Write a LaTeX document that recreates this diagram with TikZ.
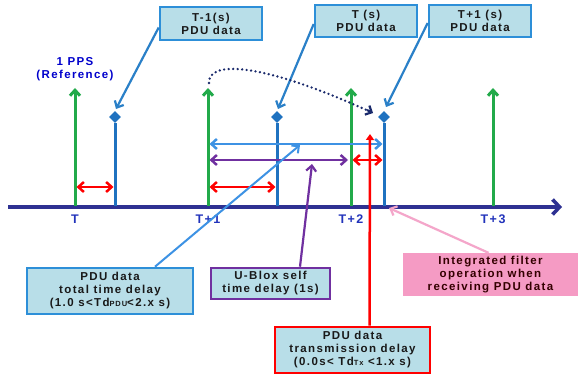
\documentclass[tikz,border=0pt]{standalone}
\usepackage{fontspec}
\setmainfont{Liberation Sans}[LetterSpace=12]
\usetikzlibrary{arrows.meta,shapes.geometric,calc}
\definecolor{navy}{HTML}{2E3192}
\definecolor{ppsgreen}{HTML}{22AA4A}
\definecolor{pdublue}{HTML}{1F72C0}
\definecolor{callblue}{HTML}{2A80C8}
\definecolor{boxfill}{HTML}{B8DEE8}
\definecolor{boxline}{HTML}{2D8FD8}
\definecolor{ltblue}{HTML}{3D92E4}
\definecolor{purp}{HTML}{7030A0}
\definecolor{pinkfill}{HTML}{F59BC4}
\definecolor{pinkline}{HTML}{F4A6CA}
\definecolor{lblblue}{HTML}{2233BB}
\definecolor{dotnavy}{HTML}{1A2A6C}
\tikzset{
  barb/.style={-{Straight Barb[length=5.5pt,width=10pt]}},
  dbarb/.style={{Straight Barb[length=5.5pt,width=10pt]}-{Straight Barb[length=5.5pt,width=10pt]}},
  txt/.style={font=\bfseries\fontsize{11.5}{13}\selectfont, align=center, text=black!90},
  infobox/.style={txt, draw=boxline, fill=boxfill, line width=2.6pt, inner sep=0pt},
  ticklbl/.style={font=\bfseries\fontsize{12.5}{13}\selectfont, text=lblblue},
  pps/.style={ppsgreen, line width=3pt, barb},
  pdu/.style={pdublue, line width=3pt},
  dia/.style={diamond, fill=pdublue, inner sep=0pt, minimum size=12pt},
  callout/.style={callblue, line width=2.2pt, barb},
}
\begin{document}
\begin{tikzpicture}[x=1pt,y=-1pt]
\useasboundingbox (0,0) rectangle (578,377);
\fill[white] (0,0) rectangle (578,377);

% axis
\coordinate (ax0) at (8,207);
\coordinate (ax1) at (562,207);
\draw[navy, line width=3.6pt, -{Straight Barb[length=7pt,width=15pt]}] (ax0) -- (ax1);

% tick labels
\node[ticklbl] (lT) at (75,219) {T};
\node[ticklbl] (lT1) at (208,219) {T+1};
\node[ticklbl] (lT2) at (351,219) {T+2};
\node[ticklbl] (lT3) at (493,219) {T+3};

% 1 PPS label
\node[ticklbl, align=center, text=blue!80!black, font=\bfseries\fontsize{11.5}{13.5}\selectfont] (ppslbl) at (75,69) {1 PPS\\(Reference)};

% green PPS arrows
\foreach \n/\x in {a/75,b/208,c/351,d/493}{
  \coordinate (g\n0) at (\x,206);
  \coordinate (g\n1) at (\x,88);
  \draw[pps] (g\n0) -- (g\n1);
}

% blue PDU lines with diamonds
\foreach \n/\x in {a/115,b/277,c/384}{
  \node[dia] (d\n) at (\x,117) {};
  \coordinate (p\n0) at (\x,206);
  \draw[pdu] (p\n0) -- (d\n.south);
}

% horizontal arrows
\coordinate (r1a) at (76.5,187); \coordinate (r1b) at (113.5,187);
\coordinate (r2a) at (209.5,187); \coordinate (r2b) at (275.5,187);
\coordinate (r3a) at (352.5,160); \coordinate (r3b) at (382.5,160);
\draw[red, line width=2.5pt, dbarb] (r1a) -- (r1b);
\draw[red, line width=2.5pt, dbarb] (r2a) -- (r2b);
\draw[red, line width=2.5pt, dbarb] (r3a) -- (r3b);
\coordinate (lb1) at (209.5,144); \coordinate (lb2) at (382.5,144);
\draw[ltblue, line width=2.5pt, dbarb] (lb1) -- (lb2);
\coordinate (pu1) at (209.5,160); \coordinate (pu2) at (348,160);
\draw[purp, line width=2.5pt, dbarb] (pu1) -- (pu2);

% top boxes
\node[infobox, minimum width=102pt, minimum height=33pt] (tm1) at (211,23.5) {T-1(s)\\PDU data};
\node[infobox, minimum width=102pt, minimum height=32pt] (t0) at (366,21) {T (s)\\PDU data};
\node[infobox, minimum width=102pt, minimum height=32pt] (tp1) at (480,21) {T+1 (s)\\PDU data};

\coordinate (ctm1) at (116,109);
\coordinate (ct0) at (278,109);
\coordinate (ctp1) at (386,107);
\draw[callout] ([yshift=-4pt]tm1.west) -- (ctm1);
\draw[callout] ([yshift=-3pt]t0.west) -- (ct0);
\draw[callout] ([yshift=-2pt]tp1.west) -- (ctp1);

% dotted curve
\coordinate (dot0) at (209,83);
\coordinate (dot1) at (373,113);
\coordinate (dot2) at (367,110);
\draw[dotnavy, line width=2.6pt, dash pattern=on 0pt off 4.5pt, line cap=round] (dot0) .. controls (208,60) and (262,62) .. (dot1);
\draw[dotnavy, line width=2.2pt, -{Straight Barb[length=5pt,width=10pt]}] (dot2) -- (dot1);

% bottom boxes
\node[infobox, minimum width=166pt, minimum height=46pt] (tot) at (110,291) {PDU data\\total time delay\\(1.0 s<Td{\fontsize{7.5}{7}\selectfont PDU}<2.x s)};
\node[infobox, draw=purp, minimum width=119pt, minimum height=31pt] (ub) at (270.5,283.5) {U-Blox self\\time delay (1s)};
\node[infobox, draw=red, minimum width=155pt, minimum height=46pt] (tx) at (352.5,350) {PDU data\\transmission delay\\(0.0s< Td{\fontsize{7.5}{7}\selectfont Tx} <1.x s)};
\node[txt, fill=pinkfill, minimum width=175pt, minimum height=43pt, inner sep=0pt, text=black!80!red] (flt) at (490.5,274.5) {Integrated filter\\operation when\\receiving PDU data};

% connectors from bottom boxes
\coordinate (ctot) at (300,145);
\coordinate (cub) at (312,164);
\coordinate (ctx) at (370,134);
\coordinate (cflt) at (389,208);
\draw[ltblue, line width=2pt, barb] ([xshift=45pt]tot.north) -- (ctot);
\draw[purp, line width=2.2pt, barb] ([xshift=29.5pt]ub.north) -- (cub);
\draw[red, line width=2.5pt, -{Triangle[length=6pt,width=8pt]}] ([xshift=17pt]tx.north) -- (ctx);
\draw[pinkline, line width=2.2pt, barb] ([xshift=-2pt]flt.north) -- (cflt);
\end{tikzpicture}
\end{document}
